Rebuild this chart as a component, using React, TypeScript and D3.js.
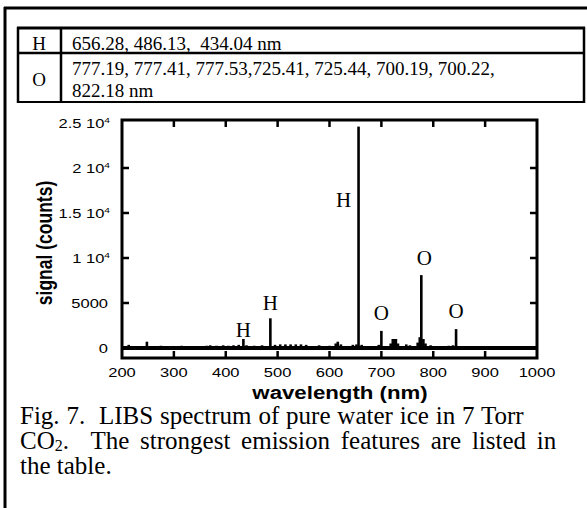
import React from "react";
import { scaleLinear } from "d3";

// emission lines (nm, counts)
const lineWavelengths = [
  213, 248, 262, 275, 300, 315, 322, 338, 350, 363, 370, 382, 395, 405, 415,
  425, 434, 440, 455, 470, 486, 495, 505, 515, 525, 535, 545, 555, 580, 600,
  612, 616, 622, 645, 652, 656, 662, 695, 700, 718, 722, 725, 728, 732, 748,
  755, 770, 774, 777, 781, 785, 795, 830, 838, 844, 850,
];
const lineCounts = [
  350, 700, 200, 250, 150, 250, 200, 150, 200, 250, 300, 250, 300, 250, 300,
  350, 1000, 300, 250, 300, 3300, 350, 400, 400, 400, 400, 400, 350, 300, 250,
  500, 700, 400, 350, 400, 24600, 350, 350, 1900, 500, 1000, 1000, 1000, 500,
  400, 300, 600, 1200, 8100, 1000, 500, 300, 250, 300, 2100, 200,
];

const xTicks = [200, 300, 400, 500, 600, 700, 800, 900, 1000];
const yTicks = [0, 5000, 10000, 15000, 20000, 25000];
const yTickLabels = [
  ["0", ""],
  ["5000", ""],
  ["1 10", "4"],
  ["1.5 10", "4"],
  ["2 10", "4"],
  ["2.5 10", "4"],
];

// peak annotations: wavelength, counts at label centre, element
const peakLabelX = [434, 486, 656, 700, 777, 844];
const peakLabelY = [2000, 5000, 16500, 3900, 10000, 4100];
const peakLabelText = ["H", "H", "H", "O", "O", "O"];

const tableRows = [
  { el: "H", lines: ["656.28, 486.13, \u00a0434.04 nm"] },
  {
    el: "O",
    lines: [
      "777.19, 777.41, 777.53,725.41, 725.44, 700.19, 700.22,",
      "822.18 nm",
    ],
  },
];

const captionLines = [
  "Fig. 7. \u00a0LIBS spectrum of pure water ice in 7 Torr",
  "CO|2|. \u00a0The strongest emission features are listed in",
  "the table.",
];
const captionWordSpacing = [0.6, 4.5, 0];

const sans = "Arial, 'Liberation Sans', sans-serif";
const serif = "'Times New Roman', 'Liberation Serif', serif";
const stretch = 1.27;

export default function App() {
  const left = 122,
    right = 537,
    top = 120,
    bottom = 358;
  const x = scaleLinear().domain([200, 1000]).range([left, right]);
  const y = scaleLinear().domain([0, 25000]).range([348, 123]);

  return (
    <svg
      width={587}
      height={508}
      style={{ position: "absolute", left: 0, top: 0, background: "#fff" }}
    >
      {/* outer frame */}
      <line x1={5} x2={5} y1={7} y2={508} stroke="#000" strokeWidth={3} />
      <line x1={4} x2={587} y1={8} y2={8} stroke="#000" strokeWidth={3} />

      {/* table */}
      <g stroke="#000">
        <line x1={17} x2={585} y1={28} y2={28} strokeWidth={3} />
        <line x1={17} x2={585} y1={53} y2={53} strokeWidth={2.5} />
        <line x1={17} x2={585} y1={102} y2={102} strokeWidth={2} />
        <line x1={18} x2={18} y1={27} y2={103} strokeWidth={2.5} />
        <line x1={61} x2={61} y1={27} y2={103} strokeWidth={2.5} />
        <line x1={584} x2={584} y1={27} y2={103} strokeWidth={2.5} />
      </g>
      <g fontFamily={serif} fontSize={19}>
        <text x={39} y={50} textAnchor="middle">
          {tableRows[0].el}
        </text>
        <text x={72} y={50}>
          {tableRows[0].lines[0]}
        </text>
        <text x={39} y={86} textAnchor="middle">
          {tableRows[1].el}
        </text>
        <text x={72} y={75}>
          {tableRows[1].lines[0]}
        </text>
        <text x={72} y={97}>
          {tableRows[1].lines[1]}
        </text>
      </g>

      {/* spectrum */}
      <line
        x1={left}
        x2={right}
        y1={y(0)}
        y2={y(0)}
        stroke="#000"
        strokeWidth={4}
      />
      {lineWavelengths.map((w, i) => (
        <line
          key={i}
          x1={x(w)}
          x2={x(w)}
          y1={y(0)}
          y2={y(lineCounts[i])}
          stroke="#000"
          strokeWidth={2.6}
        />
      ))}

      {/* axes frame */}
      <rect
        x={left}
        y={top}
        width={right - left}
        height={bottom - top}
        fill="none"
        stroke="#000"
        strokeWidth={3}
      />
      {xTicks.slice(1, -1).map((t) => (
        <g key={t}>
          <line x1={x(t)} x2={x(t)} y1={bottom} y2={bottom - 7} stroke="#000" strokeWidth={2.5} />
          <line x1={x(t)} x2={x(t)} y1={top} y2={top + 7} stroke="#000" strokeWidth={2.5} />
        </g>
      ))}
      {yTicks.slice(1, -1).map((t) => (
        <g key={t}>
          <line x1={left} x2={left + 7} y1={y(t)} y2={y(t)} stroke="#000" strokeWidth={2.5} />
          <line x1={right} x2={right - 7} y1={y(t)} y2={y(t)} stroke="#000" strokeWidth={2.5} />
        </g>
      ))}

      {/* tick labels */}
      {xTicks.map((t) => (
        <g key={t} transform={`translate(${x(t)},377) scale(${stretch},1)`}>
          <text textAnchor="middle" fontFamily={sans} fontSize={13}>
            {t}
          </text>
        </g>
      ))}
      {yTicks.map((t, i) => (
        <g
          key={t}
          transform={`translate(${yTickLabels[i][1] ? 110 : 108},${y(t) + 4.5}) scale(${stretch},1)`}
        >
          <text textAnchor="end" fontFamily={sans} fontSize={13}>
            {yTickLabels[i][0]}
            {yTickLabels[i][1] && (
              <tspan fontSize={8} dy={-5}>
                {yTickLabels[i][1]}
              </tspan>
            )}
          </text>
        </g>
      ))}

      {/* axis titles */}
      <g transform={`translate(340,399) scale(${stretch},1)`}>
        <text textAnchor="middle" fontFamily={sans} fontSize={17.5} fontWeight="bold">
          wavelength (nm)
        </text>
      </g>
      <g transform={`translate(52,243) scale(${stretch},1) rotate(-90)`}>
        <text textAnchor="middle" fontFamily={sans} fontSize={17.5} fontWeight="bold">
          signal (counts)
        </text>
      </g>

      {/* peak labels */}
      {peakLabelX.map((w, i) => (
        <text
          key={i}
          x={x(w) - (i === 2 ? 15 : i === 4 ? -3 : 0)}
          y={y(peakLabelY[i]) + 7}
          textAnchor="middle"
          fontFamily={serif}
          fontSize={21}
        >
          {peakLabelText[i]}
        </text>
      ))}

      {/* caption */}
      <g fontFamily={serif} fontSize={25}>
        {captionLines.map((ln, i) => {
          const parts = ln.split("|");
          return (
            <text
              key={i}
              x={20}
              y={424 + i * 25}
              style={{ wordSpacing: `${captionWordSpacing[i]}px` }}
            >
              {parts.length > 1 ? (
                <>
                  {parts[0]}
                  <tspan fontSize={16} dy={1.5}>
                    {parts[1]}
                  </tspan>
                  <tspan dy={-1.5}>{parts[2]}</tspan>
                </>
              ) : (
                ln
              )}
            </text>
          );
        })}
      </g>
    </svg>
  );
}
